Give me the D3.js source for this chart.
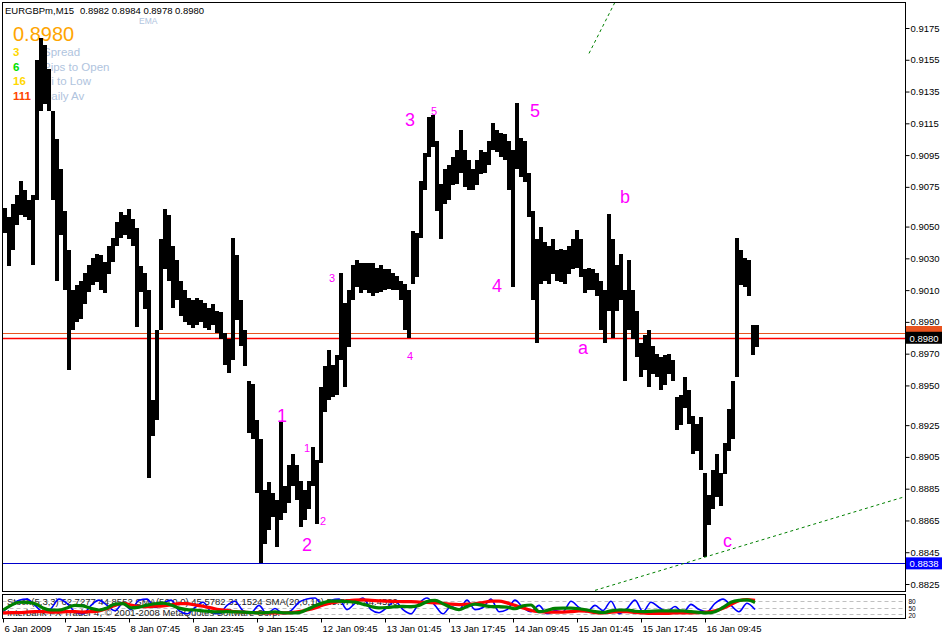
<!DOCTYPE html>
<html><head><meta charset="utf-8">
<script src="https://cdn.jsdelivr.net/npm/d3@7/dist/d3.min.js"></script>
<style>body{margin:0;background:#fff}svg{display:block;font-family:"Liberation Sans",Arial,sans-serif}</style>
</head><body><svg id="c" width="943" height="636"></svg>
<script>
// ---------- DATA ----------
const symbol = "EURGBPm,M15";
const ohlc = [0.8982, 0.8984, 0.8978, 0.8980];
const bidPrice = 0.8980, askPrice = 0.8983, lowLine = 0.8838;
const infoValues = ["3", "6", "16", "111"];
const infoLabels = ["Spread", "Pips to Open", "Hi to Low", "Daily Av"];
const barsPerPoint = 4; // hourly samples of the M15 chart
const highs = [
0.9062,0.9056,0.9064,0.9070,0.9079,0.9073,0.9067,0.9070,0.9155,0.9169,
0.9164,0.9149,0.9123,0.9105,0.9086,0.9060,0.9035,0.9010,0.9013,0.9016,
0.9021,0.9026,0.9030,0.9033,0.9032,0.9028,0.9038,0.9043,0.9053,0.9059,
0.9057,0.9061,0.9055,0.9049,0.9025,0.9021,0.9010,0.8941,0.8985,0.9042,
0.9061,0.9057,0.9038,0.9029,0.9016,0.9010,0.9005,0.9004,0.9005,0.9004,
0.9002,0.8999,0.9001,0.8997,0.8996,0.8983,0.8979,0.9043,0.9032,0.9004,
0.8985,0.8953,0.8951,0.8928,0.8916,0.8884,0.8889,0.8882,0.8878,0.8927,
0.8887,0.8900,0.8907,0.8900,0.8890,0.8884,0.8890,0.8911,0.8903,0.8949,
0.8962,0.8972,0.8963,0.8969,0.9021,0.9002,0.9010,0.9026,0.9029,0.9027,
0.9027,0.9027,0.9027,0.9024,0.9026,0.9023,0.9023,0.9021,0.9019,0.9016,
0.9014,0.9010,0.9047,0.9046,0.9079,0.9096,0.9119,0.9120,0.9104,0.9077,
0.9086,0.9089,0.9094,0.9098,0.9111,0.9098,0.9092,0.9086,0.9092,0.9098,
0.9097,0.9104,0.9115,0.9111,0.9109,0.9108,0.9104,0.9098,0.9128,0.9106,
0.9104,0.9084,0.9060,0.9042,0.9050,0.9040,0.9038,0.9042,0.9035,0.9036,
0.9035,0.9038,0.9042,0.9048,0.9042,0.9023,0.9024,0.9023,0.9021,0.9016,
0.9010,0.9058,0.9042,0.9026,0.9033,0.9010,0.9029,0.9010,0.8997,0.8977,
0.8982,0.8985,0.8975,0.8970,0.8968,0.8969,0.8970,0.8966,0.8943,0.8944,
0.8955,0.8947,0.8931,0.8926,0.8930,0.8895,0.8881,0.8897,0.8907,0.8895,
0.8914,0.8935,0.8953,0.9043,0.9035,0.9030,0.9029,0.8988,0.8988];
const lows = [
0.9046,0.9025,0.9035,0.9051,0.9057,0.9056,0.9054,0.9026,0.9067,0.9123,
0.9127,0.9123,0.9067,0.9016,0.9045,0.9010,0.8960,0.8985,0.8990,0.8992,
0.9001,0.9009,0.9013,0.9015,0.9010,0.9008,0.9020,0.9028,0.9038,0.9043,
0.9045,0.9042,0.9038,0.8987,0.9009,0.8998,0.8892,0.8918,0.8928,0.8985,
0.9023,0.9016,0.8999,0.9004,0.8994,0.8990,0.8988,0.8986,0.8988,0.8990,
0.8986,0.8985,0.8988,0.8983,0.8979,0.8963,0.8958,0.8966,0.8991,0.8975,
0.8962,0.8920,0.8916,0.8882,0.8838,0.8850,0.8859,0.8867,0.8848,0.8865,
0.8870,0.8876,0.8887,0.8878,0.8861,0.8865,0.8872,0.8887,0.8863,0.8901,
0.8933,0.8941,0.8943,0.8944,0.8966,0.8949,0.8974,0.9004,0.9012,0.9008,
0.9010,0.9008,0.9006,0.9008,0.9009,0.9010,0.9011,0.9010,0.9010,0.9004,
0.8985,0.8980,0.9014,0.9018,0.9043,0.9073,0.9094,0.9100,0.9060,0.9042,
0.9064,0.9067,0.9076,0.9077,0.9084,0.9075,0.9073,0.9073,0.9076,0.9083,
0.9084,0.9089,0.9098,0.9097,0.9094,0.9092,0.9073,0.9012,0.9086,0.9081,
0.9078,0.9056,0.9004,0.8977,0.9014,0.9016,0.9014,0.9020,0.9016,0.9015,
0.9014,0.9020,0.9023,0.9024,0.9018,0.9008,0.9010,0.9010,0.9006,0.8985,
0.8977,0.8997,0.8980,0.8997,0.9004,0.8953,0.8985,0.8979,0.8968,0.8955,
0.8960,0.8949,0.8957,0.8955,0.8947,0.8950,0.8957,0.8953,0.8922,0.8925,
0.8936,0.8926,0.8907,0.8909,0.8897,0.8842,0.8862,0.8872,0.8880,0.8874,
0.8894,0.8909,0.8916,0.8955,0.9013,0.9012,0.9006,0.8969,0.8974];
const priceTicks = [0.9175,0.9155,0.9135,0.9115,0.9095,0.9075,0.9050,0.9030,0.9010,0.8990,0.8970,0.8950,0.8925,0.8905,0.8885,0.8865,0.8845,0.8825];
const dateTickBars = [0,62,126,190,254,318,382,446,510,574,638,702];
const dateLabels = ["6 Jan 2009","7 Jan 15:45","8 Jan 07:45","8 Jan 23:45","9 Jan 15:45","12 Jan 09:45","13 Jan 01:45","13 Jan 17:45","14 Jan 09:45","15 Jan 01:45","15 Jan 17:45","16 Jan 09:45"];
// wave labels: text, bar index, price, size class
const waveText  = ["1","1","2","2","3","4","3","5","4","5","a","b","c"];
const waveBar   = [274,301,317,299,326,404,402,428,489,527,575,617,720];
const wavePrice = [0.8927,0.8908,0.8862,0.8846,0.9015,0.8966,0.9113,0.9120,0.9009,0.9119,0.8970,0.9065,0.8848];
const waveBig   = [1,0,0,1,0,0,1,0,1,1,1,1,1];
// trend lines [bar, price]
const trendUpper = [[586,0.9159],[640,0.9226]];
const trendLower = [[592,0.8821],[902,0.8880]];
// stochastic panel, one sample every 8 M15 bars
const oscStep = 8;
const stochBlue = [30,60,85,90,60,30,45,90,70,30,20,60,85,60,35,70,40,85,90,50,70,85,35,20,50,75,30,20,60,80,35,25,60,20,45,20,35,75,90,95,60,85,90,40,70,95,40,25,50,80,40,20,70,95,60,20,55,40,85,40,50,90,30,40,85,50,30,60,20,35,30,80,50,30,60,35,80,20,45,85,30,75,50,30,55,25,65,40,30,70,90,60,30,70,40];
const stochRed = [24,26,26,28,30,30,28,28,30,30,28,30,34,45,60,70,62,55,54,56,58,62,68,68,62,56,48,40,36,30,28,26,25,24,24,24,26,30,38,48,62,72,78,82,85,86,84,82,80,79,78,78,76,74,72,70,66,64,66,68,74,80,80,72,60,48,36,30,28,28,28,30,34,32,26,24,28,30,30,27,24,22,22,22,24,24,24,26,28,34,46,64,82,88,84];
const stochGreen = [38,60,75,74,68,48,38,38,48,60,58,46,38,48,66,68,48,52,61,68,71,62,47,40,38,34,30,29,30,29,28,26,24,26,29,25,24,26,40,58,72,80,80,78,76,66,55,48,50,54,55,54,60,78,84,68,50,40,55,66,60,54,54,52,44,58,62,30,36,46,47,47,44,38,30,26,34,38,38,32,30,32,34,34,34,34,30,27,24,30,50,75,84,86,74];
const oscLevels = [80,50,20];

// ---------- DRAW ----------
const svg = d3.select("#c");
const L=2.5, R=905.5, T=2.5, B=591.5, IT=594.5, IB=618.5;
const xs = d3.scaleLinear().domain([0,902]).range([3,905]);
const ys = d3.scaleLinear().domain([0.8825,0.9175]).range([584,28]);
const yi = d3.scaleLinear().domain([0,100]).range([618,597]);

const defs = svg.append("defs");
defs.append("clipPath").attr("id","mainClip").append("rect").attr("x",L+0.5).attr("y",T+0.5).attr("width",R-L-1).attr("height",B-T-1);
defs.append("clipPath").attr("id","oscClip").append("rect").attr("x",L+0.5).attr("y",IT+0.5).attr("width",R-L-1).attr("height",IB-IT-1);

const main = svg.append("g").attr("clip-path","url(#mainClip)");

// info block (drawn under the bars)
main.append("text").attr("x",13).attr("y",40.5).attr("font-size",20).attr("fill","#FFA500").text(bidPrice.toFixed(4));
const infoColors = ["#FFD700","#00E000","#FFD700","#FF4500"];
infoValues.forEach((v,i)=>{
  const y = 56 + i*14.7;
  main.append("text").attr("x",13).attr("y",y).attr("font-size",11.5).attr("font-weight","bold").attr("fill",infoColors[i]).text(v);
  main.append("text").attr("x",43).attr("y",y).attr("font-size",11.5).attr("fill","#B0C4DE").text(infoLabels[i]);
});
main.append("text").attr("x",139).attr("y",23.5).attr("font-size",8.5).attr("fill","#B0C4DE").text("EMA");

// horizontal price lines
main.append("line").attr("x1",L).attr("x2",R).attr("y1",Math.round(ys(askPrice))+0.5).attr("y2",Math.round(ys(askPrice))+0.5).attr("stroke","#E8531F").attr("stroke-width",1);
main.append("line").attr("x1",L).attr("x2",R).attr("y1",Math.round(ys(bidPrice))+0.5).attr("y2",Math.round(ys(bidPrice))+0.5).attr("stroke","#FF0000").attr("stroke-width",1.3);
main.append("line").attr("x1",L).attr("x2",R).attr("y1",Math.round(ys(lowLine))+0.5).attr("y2",Math.round(ys(lowLine))+0.5).attr("stroke","#0000CC").attr("stroke-width",1);

// price bars (hourly samples of the M15 bars)
const bars = highs.map((h,i)=>({i, h, l: lows[i]}));
main.append("g").selectAll("rect").data(bars).join("rect")
  .attr("x", d=>xs(d.i*barsPerPoint))
  .attr("width", d=>xs((d.i+1)*barsPerPoint)-xs(d.i*barsPerPoint))
  .attr("y", d=>ys(d.h))
  .attr("height", d=>Math.max(1, ys(d.l)-ys(d.h)))
  .attr("fill","#000").attr("shape-rendering","crispEdges");

// trend lines
[trendUpper, trendLower].forEach(t=>{
  main.append("line").attr("x1",xs(t[0][0])).attr("y1",ys(t[0][1])).attr("x2",xs(t[1][0])).attr("y2",ys(t[1][1]))
    .attr("stroke","#008000").attr("stroke-width",1).attr("stroke-dasharray","3,3");
});

// wave labels
waveText.forEach((t,i)=>{
  main.append("text").attr("x",xs(waveBar[i])).attr("y",ys(wavePrice[i]))
    .attr("font-size", waveBig[i]?18:11).attr("fill","#FF00FF").text(t);
});

// header
svg.append("text").attr("x",5).attr("y",13.5).attr("font-size",9.5).attr("fill","#000").text(symbol);
svg.append("text").attr("x",80).attr("y",13.5).attr("font-size",9.5).attr("fill","#000").text(ohlc.map(v=>v.toFixed(4)).join(" "));

// borders
svg.append("rect").attr("x",L).attr("y",T).attr("width",R-L).attr("height",B-T).attr("fill","none").attr("stroke","#000");
svg.append("rect").attr("x",L).attr("y",IT).attr("width",R-L).attr("height",IB-IT).attr("fill","none").attr("stroke","#000");

// right price axis
const ya = svg.append("g").attr("transform",`translate(${R},0)`)
  .call(d3.axisRight(ys).tickValues(priceTicks).tickSize(4).tickPadding(1).tickFormat(d3.format(".4f")));
ya.select(".domain").remove();
ya.selectAll("text").attr("font-size",9.5).attr("font-family","Liberation Sans, Arial, sans-serif").attr("fill","#000");
ya.selectAll("line").attr("stroke","#000");

// price tags (ask tag mostly hidden under the bid tag, as in the terminal)
function tag(price, bg, fg, dy, showText){
  const y = ys(price)+(dy||0);
  svg.append("rect").attr("x",R+0.5).attr("y",y-6).attr("width",36).attr("height",12).attr("fill",bg);
  if (showText) svg.append("text").attr("x",R+4).attr("y",y+4).attr("font-size",9.5).attr("fill",fg).text(price.toFixed(4));
}
tag(askPrice,"#E8531F","#fff",-1,false);
tag(bidPrice,"#000","#fff",0,true);
tag(lowLine,"#0000FF","#fff",0,true);

// oscillator panel
const osc = svg.append("g").attr("clip-path","url(#oscClip)");
oscLevels.forEach(v=>{
  osc.append("line").attr("x1",L).attr("x2",R).attr("y1",Math.round(yi(v))+0.5).attr("y2",Math.round(yi(v))+0.5)
    .attr("stroke","#C0C0C0").attr("stroke-dasharray","4,3");
});
osc.append("text").attr("x",7).attr("y",605).attr("font-size",9.5).attr("fill","#222")
  .text("Stoch(5,3,3) 62.7277 44.8552  SMA(50,0,0) 45.5782 31.1524  SMA(20,0,10) 59.5777 44.4520");
osc.append("text").attr("x",7).attr("y",616).attr("font-size",9.5).attr("fill","#222")
  .text("Interbank FX Trader 4, © 2001-2008 MetaQuotes Software Corp.");
const lineGen = d3.line().x((d,i)=>xs(i*oscStep)).y(d=>yi(d)).curve(d3.curveMonotoneX);
osc.append("path").attr("d",lineGen(stochBlue)).attr("fill","none").attr("stroke","#0000FF").attr("stroke-width",1.6);
osc.append("path").attr("d",lineGen(stochRed)).attr("fill","none").attr("stroke","#FF0000").attr("stroke-width",3.2);
osc.append("path").attr("d",lineGen(stochGreen)).attr("fill","none").attr("stroke","#008000").attr("stroke-width",3.2);
oscLevels.forEach((v,i)=>{
  svg.append("text").attr("x",R+3).attr("y",603.5 + i*7).attr("font-size",6.5).attr("fill","#000").text(v);
});

// date axis
const xa = svg.append("g").attr("transform",`translate(0,${IB})`)
  .call(d3.axisBottom(xs).tickValues(dateTickBars).tickSize(4).tickFormat((d,i)=>dateLabels[i]));
xa.select(".domain").remove();
xa.selectAll("line").attr("stroke","#000");
xa.selectAll("text").attr("text-anchor","start").attr("x",1).attr("font-size",9.5)
  .attr("font-family","Liberation Sans, Arial, sans-serif").attr("fill","#000");
</script></body></html>
